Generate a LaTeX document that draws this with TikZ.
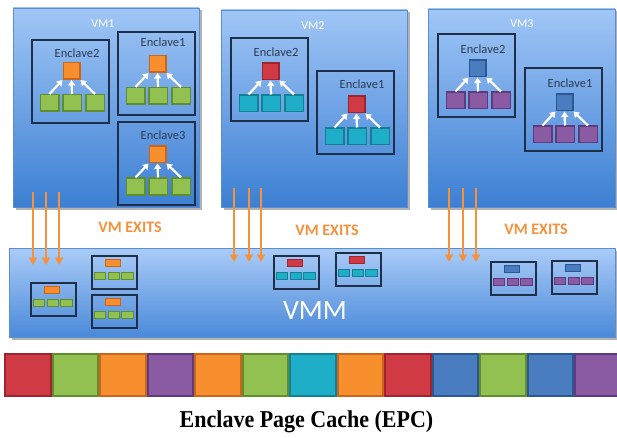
\documentclass[tikz,border=0pt]{standalone}
\usepackage{fontspec}
\setmainfont{Carlito}
\newfontfamily\titlefont{Liberation Serif}
\usetikzlibrary{arrows.meta,shadows}
\definecolor{fO}{HTML}{F78F2E}\definecolor{dO}{HTML}{C9651C}
\definecolor{fG}{HTML}{92C152}\definecolor{dG}{HTML}{5E8E30}
\definecolor{fR}{HTML}{CF3A45}\definecolor{dR}{HTML}{9E2530}
\definecolor{fT}{HTML}{1FAEC8}\definecolor{dT}{HTML}{157F93}
\definecolor{fB}{HTML}{4A7DBF}\definecolor{dB}{HTML}{2C5891}
\definecolor{fP}{HTML}{8A5BA3}\definecolor{dP}{HTML}{5F3B7E}
\definecolor{vmtop}{HTML}{A0C6F6}\definecolor{vmbot}{HTML}{3C7FD3}
\definecolor{vmline}{HTML}{5A8ED0}
\definecolor{vmmtop}{HTML}{AACCF8}\definecolor{vmmbot}{HTML}{4A89D9}
\definecolor{navy}{HTML}{1E2F4A}
\definecolor{exitorange}{HTML}{F5913B}
\tikzset{
  vmbox/.style={draw=vmline, line width=0.8pt, top color=vmtop, bottom color=vmbot,
    inner sep=0, drop shadow={shadow xshift=2.5pt, shadow yshift=-2.5pt, fill=black, opacity=0.3}},
  vmlabel/.style={text=white, font=\fontsize{12}{13}\selectfont, inner sep=0},
  encbox/.style={draw=navy, line width=1.4pt, minimum width=77pt, minimum height=83pt, inner sep=0},
  enclabel/.style={text=navy!85!gray, font=\fontsize{12.5}{13}\selectfont, inner sep=0},
  topsq/.style={line width=1.5pt, minimum width=16.5pt, minimum height=16.5pt, inner sep=0},
  botsq/.style={line width=1.5pt, minimum width=18.5pt, minimum height=16.5pt, inner sep=0},
  cO/.style={fill=fO, draw=dO}, cG/.style={fill=fG, draw=dG}, cR/.style={fill=fR, draw=dR},
  cT/.style={fill=fT, draw=dT}, cB/.style={fill=fB, draw=dB}, cP/.style={fill=fP, draw=dP},
  whitearr/.style={draw=white, line width=2.2pt, -{Triangle[length=5.5pt,width=7pt]}},
  exitarrow/.style={draw=exitorange, line width=2.4pt, -{Triangle[length=7.5pt,width=8pt]}},
  exitlabel/.style={text=exitorange, font=\bfseries\fontsize{16}{17}\selectfont, inner sep=0},
  minibox/.style={draw=navy, line width=1.3pt, minimum width=45pt, minimum height=33pt, inner sep=0},
  minitop/.style={line width=1.4pt, minimum width=14.5pt, minimum height=7.5pt, inner sep=0},
  minibot/.style={line width=1.4pt, minimum width=11.5pt, minimum height=7.5pt, inner sep=0},
  epcsq/.style={line width=2pt, minimum width=45.5pt, minimum height=42pt, inner sep=0},
}
% #1 name, #2 x, #3 y, #4 label, #5 label dy, #6 content dy, #7 top style, #8 bottom style
\newcommand{\enclavegroup}[8]{%
  \begin{scope}[shift={(#2,#3)}]
    \node[encbox] (#1) at (38.5,41.5) {};
    \node[enclabel] (#1-lbl) at (45,#5) {#4};
    \node[topsq,#7] (#1-t) at (39.5,{32+#6}) {};
    \node[botsq,#8] (#1-b1) at (17.5,{64+#6}) {};
    \node[botsq,#8] (#1-b2) at (40,{64+#6}) {};
    \node[botsq,#8] (#1-b3) at (63,{64+#6}) {};
    \draw[whitearr] (#1-b1.north) -- (#1-t.south west);
    \draw[whitearr] (#1-b2.north) -- (#1-t.south);
    \draw[whitearr] (#1-b3.north) -- (#1-t.south east);
  \end{scope}}
% #1 name, #2 x, #3 y, #4 top style, #5 bottom style
\newcommand{\minigroup}[5]{%
  \begin{scope}[shift={(#2,#3)}]
    \node[minibox] (#1) at (22.5,16.5) {};
    \node[minitop,#4] (#1-t) at (21,7) {};
    \node[minibot,#5] (#1-b1) at (8,20) {};
    \node[minibot,#5] (#1-b2) at (22,20) {};
    \node[minibot,#5] (#1-b3) at (35.5,20) {};
  \end{scope}}
\begin{document}
\begin{tikzpicture}[x=1pt,y=-1pt]
\useasboundingbox (0,0) rectangle (617,438);
\fill[white] (0,0) rectangle (617,438);

% VMM
\node[vmbox, top color=vmmtop, bottom color=vmmbot, minimum width=606pt, minimum height=89pt] (vmm) at (312,292.5) {};
\node[text=white, font=\fontsize{28}{30}\selectfont, inner sep=0] (vmmlbl) at (315,311) {VMM};

% VMs
\node[vmbox, minimum width=186pt, minimum height=199pt] (vm1) at (106,107.5) {};
\node[vmbox, minimum width=186pt, minimum height=197pt] (vm2) at (314,108.5) {};
\node[vmbox, minimum width=187pt, minimum height=198pt] (vm3) at (521.5,108) {};
\node[vmlabel] (vm1lbl) at (103,24) {VM1};
\node[vmlabel] (vm2lbl) at (313,26) {VM2};
\node[vmlabel] (vm3lbl) at (522,24) {VM3};

% Enclaves
\enclavegroup{v1e2}{32}{40}{Enclave2}{13}{-1}{cO}{cG}
\enclavegroup{v1e1}{118}{32}{Enclave1}{10}{0}{cO}{cG}
\enclavegroup{v1e3}{118}{122}{Enclave3}{13}{0.5}{cO}{cG}
\enclavegroup{v2e2}{231}{38}{Enclave2}{14}{1.5}{cR}{cT}
\enclavegroup{v2e1}{317}{71}{Enclave1}{13}{1.5}{cR}{cT}
\enclavegroup{v3e2}{438}{34}{Enclave2}{15}{2.5}{cB}{cP}
\enclavegroup{v3e1}{525}{68}{Enclave1}{15}{2.5}{cB}{cP}

% VM exits
\foreach \n/\x in {a/33,b/46,c/59} {
  \coordinate (s1\n) at (\x,192); \coordinate (t1\n) at (\x,265);
  \draw[exitarrow] (s1\n) -- (t1\n);}
\foreach \n/\x in {a/234,b/249,c/261} {
  \coordinate (s2\n) at (\x,188); \coordinate (t2\n) at (\x,262);
  \draw[exitarrow] (s2\n) -- (t2\n);}
\foreach \n/\x in {a/449,b/463,c/476} {
  \coordinate (s3\n) at (\x,188); \coordinate (t3\n) at (\x,262);
  \draw[exitarrow] (s3\n) -- (t3\n);}
\node[exitlabel] (exit1) at (130,227) {VM EXITS};
\node[exitlabel] (exit2) at (327,230) {VM EXITS};
\node[exitlabel] (exit3) at (536,229) {VM EXITS};

% Mini enclaves in VMM
\minigroup{mA}{31}{283}{cO}{cG}
\minigroup{mB}{92}{256}{cO}{cG}
\minigroup{mC}{92}{295}{cO}{cG}
\minigroup{mD}{274}{256}{cR}{cT}
\minigroup{mE}{336}{253}{cR}{cT}
\minigroup{mF}{491}{262}{cB}{cP}
\minigroup{mG}{552}{261}{cB}{cP}

% EPC
\foreach \c [count=\i from 0] in {R,G,O,P,O,G,T,O,R,B,G,B,P} {
  \node[epcsq, fill=f\c, draw=d\c] (epc\i) at ({4+47.5*\i+23.75},375) {};}
\node[font=\titlefont\bfseries\fontsize{22}{24}\selectfont, inner sep=0, transform shape, yscale=1.1] (title) at (306.5,422) {Enclave Page Cache (EPC)};
\end{tikzpicture}
\end{document}
